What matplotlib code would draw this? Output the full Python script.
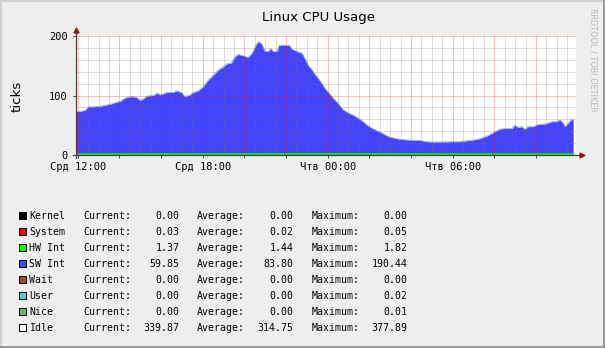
import matplotlib
matplotlib.use('Agg')
import matplotlib.pyplot as plt
from matplotlib.lines import Line2D
from matplotlib.patches import Rectangle

# SW Int curve: time in hours since Wed 00:00, value in ticks
sw_hours = [11.92, 12.11, 12.35, 12.51, 12.75, 13.07, 13.39, 13.63, 13.79, 14.03,
            14.19, 14.35, 14.59, 14.83, 14.99, 15.15, 15.31, 15.63, 15.82, 15.95,
            16.27, 16.59, 16.75, 16.99, 17.15, 17.39, 17.55, 17.79, 18.03, 18.27,
            18.51, 18.75, 18.99, 19.15, 19.39, 19.55, 19.71, 19.94, 20.18, 20.37,
            20.61, 20.70, 20.85, 20.99, 21.14, 21.28, 21.38, 21.57, 21.66, 21.86,
            22.05, 22.14, 22.29, 22.53, 22.77, 22.91, 23.06, 23.25, 23.39, 23.54,
            23.73, 23.87, 24.02, 24.21, 24.35, 24.50, 24.74, 24.98, 25.22, 25.46,
            25.70, 25.94, 26.18, 26.42, 26.66, 26.90, 27.14, 27.38, 27.62, 27.95,
            28.43, 28.77, 29.06, 29.54, 30.02, 30.35, 30.69, 30.98, 31.31, 31.65,
            31.94, 32.27, 32.61, 32.85, 32.99, 33.14, 33.33, 33.47, 33.62, 33.86,
            34.10, 34.43, 34.76, 35.01, 35.15, 35.30, 35.39, 35.54, 35.68, 35.78]
sw_values = [72.8, 73.5, 75.0, 81.0, 81.0, 82.0, 84.0, 86.0, 88.0, 90.0,
             94.0, 97.0, 98.0, 97.0, 92.0, 94.0, 99.0, 100.0, 104.0, 101.0,
             105.0, 105.0, 108.0, 105.0, 98.0, 101.0, 105.0, 108.0, 115.0, 126.0,
             134.0, 143.0, 148.0, 153.0, 155.0, 165.0, 169.0, 167.0, 164.0, 171.0,
             188.0, 190.4, 186.0, 174.0, 174.0, 179.0, 174.0, 174.0, 184.0, 185.0,
             184.0, 185.0, 178.0, 174.0, 171.0, 162.0, 151.0, 143.0, 136.0, 129.0,
             120.0, 112.0, 106.0, 98.0, 92.0, 87.0, 76.0, 71.0, 67.0, 62.0,
             56.0, 49.0, 44.0, 40.0, 36.0, 31.0, 29.0, 27.0, 26.0, 25.0,
             24.6, 22.4, 22.0, 22.0, 22.4, 22.4, 24.0, 25.0, 27.5, 32.0,
             37.5, 43.7, 44.8, 44.8, 50.0, 46.5, 47.6, 43.0, 47.6, 47.6,
             51.5, 52.0, 56.0, 56.0, 59.0, 54.0, 47.6, 53.0, 59.0, 59.85]

# HW Int, nearly flat
hw_hours = [11.92, 18.0, 24.0, 30.0, 35.78]
hw_values = [1.4, 1.5, 1.8, 1.4, 1.37]

# x axis labels
label_hours = [12, 18, 24, 30]
label_texts = ['Срд 12:00', 'Срд 18:00', 'Чтв 00:00', 'Чтв 06:00']

# legend table
legend_names = ['Kernel', 'System', 'HW Int', 'SW Int', 'Wait', 'User', 'Nice', 'Idle']
legend_colors = ['#000000', '#ff0000', '#00ff00', '#4444ff',
                 '#a8482a', '#4ccccc', '#66bb66', '#ffffff']
cur_values = [0.00, 0.03, 1.37, 59.85, 0.00, 0.00, 0.00, 339.87]
avg_values = [0.00, 0.02, 1.44, 83.80, 0.00, 0.00, 0.00, 314.75]
max_values = [0.00, 0.05, 1.82, 190.44, 0.00, 0.02, 0.01, 377.89]

W, H = 605, 348
BG = '#efefef'
MONO = 'DejaVu Sans Mono'

fig = plt.figure(figsize=(W / 100, H / 100), dpi=100, facecolor=BG)


def fx(px):
    return px / W


def fy(py):
    return 1 - py / H


# plot area: x 76..576, y 36..155 (pixels)
ax = fig.add_axes([fx(76), fy(155), fx(500), 119 / H])
ax.set_facecolor('white')
ax.set_xlim(11.92, 35.92)
ax.set_ylim(0, 200)

ax.fill_between(sw_hours, 0, sw_values, color='#4444ff', lw=0, zorder=1)
ax.plot(sw_hours, sw_values, color='#9fb0b8', lw=0.6, zorder=1.2)
ax.plot(hw_hours, hw_values, color='#00ff00', lw=1.3, zorder=1.5)

ax.set_xticks(range(12, 36, 2))
ax.set_xticks([h / 2 for h in range(24, 72)], minor=True)
ax.set_yticks([0, 100, 200])
ax.set_yticks(range(0, 201, 20), minor=True)

ax.set_xticklabels([label_texts[label_hours.index(h)] if h in label_hours else ''
                    for h in range(12, 36, 2)], fontfamily=MONO, fontsize=7.5)
ax.set_yticklabels(['0', '100', '200'], fontfamily=MONO, fontsize=7.5)
ax.tick_params(which='minor', length=0)
ax.tick_params(axis='x', which='major', length=2, width=0.7, color='#444444', pad=3)
ax.tick_params(axis='y', which='major', length=2, width=0.7, color='#444444', pad=4)

# grid on top of the data, like rrdtool does
ax.set_axisbelow(False)
ax.grid(True, which='minor', color='#707070', alpha=0.28, lw=0.6)
ax.grid(True, which='major', color='#ff0000', alpha=0.3, lw=0.6)

for s in ax.spines.values():
    s.set_visible(False)

# axes lines with small dark red arrows
ax.add_line(Line2D([0, 0], [-0.025, 1.04], transform=ax.transAxes,
                   color='#404040', lw=0.9, clip_on=False, zorder=3))
ax.add_line(Line2D([-0.006, 1.006], [0, 0], transform=ax.transAxes,
                   color='#404040', lw=0.9, clip_on=False, zorder=3))
ax.plot([0], [1.05], marker='^', ms=3.5, color='#8b1a1a', transform=ax.transAxes,
        clip_on=False, zorder=4)
ax.plot([1.011], [0], marker='>', ms=3.5, color='#8b1a1a', transform=ax.transAxes,
        clip_on=False, zorder=4)

# title, y label, watermark
fig.text(fx(318), fy(17), 'Linux CPU Usage', ha='center', va='center', fontsize=9.6)
fig.text(fx(17), fy(96), 'ticks', ha='center', va='center', rotation=90, fontsize=9.6)
fig.text(fx(593), fy(60), 'RRDTOOL / TOBI OETIKER', ha='center', va='center',
         rotation=270, fontsize=5.9, color='#b8b8b8')

# legend rows
for i, name in enumerate(legend_names):
    y = 215.7 + 16 * i
    fig.add_artist(Rectangle((fx(18.5), fy(y + 3.5)), 7 / W, 7 / H,
                             facecolor=legend_colors[i], edgecolor='black', lw=0.7))
    fig.text(fx(29), fy(y), name, ha='left', va='center', family=MONO, fontsize=7.1)
    fig.text(fx(83.3), fy(y), 'Current:', ha='left', va='center', family=MONO, fontsize=7.1)
    fig.text(fx(179.5), fy(y), '%.2f' % cur_values[i], ha='right', va='center',
             family=MONO, fontsize=7.1)
    fig.text(fx(197.3), fy(y), 'Average:', ha='left', va='center', family=MONO, fontsize=7.1)
    fig.text(fx(293.5), fy(y), '%.2f' % avg_values[i], ha='right', va='center',
             family=MONO, fontsize=7.1)
    fig.text(fx(311.7), fy(y), 'Maximum:', ha='left', va='center', family=MONO, fontsize=7.1)
    fig.text(fx(407.5), fy(y), '%.2f' % max_values[i], ha='right', va='center',
             family=MONO, fontsize=7.1)

# 3d-ish frame around the image
fig.add_artist(Line2D([0, 1], [fy(1), fy(1)], color='#d0d0d0', lw=1.5))
fig.add_artist(Line2D([fx(1), fx(1)], [0, 1], color='#d0d0d0', lw=1.5))
fig.add_artist(Line2D([0, 1], [fy(347), fy(347)], color='#9c9c9c', lw=1.5))
fig.add_artist(Line2D([fx(604), fx(604)], [0, 1], color='#9c9c9c', lw=1.5))

fig.savefig('out.png', dpi=100, facecolor=BG)
